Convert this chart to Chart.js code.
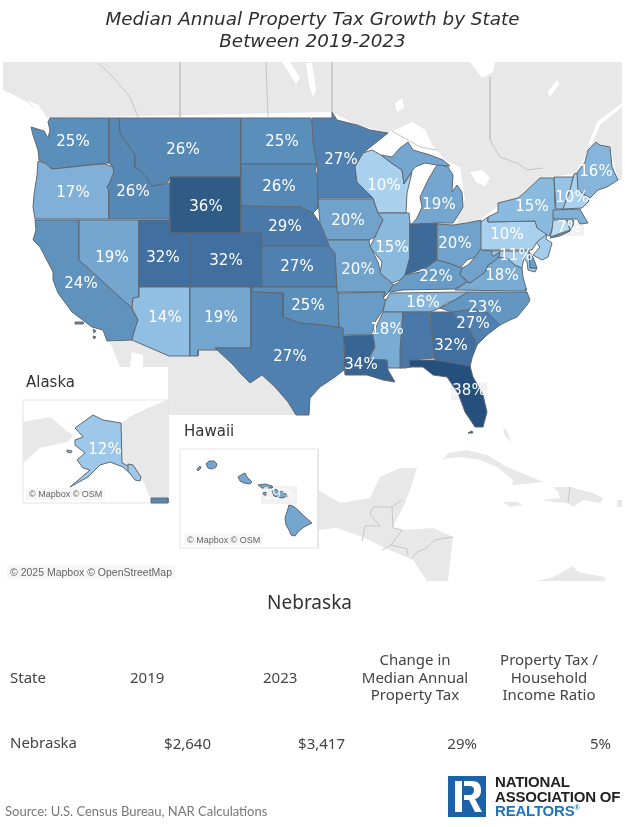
<!DOCTYPE html>
<html>
<head>
<meta charset="utf-8">
<title>Median Annual Property Tax Growth by State</title>
<script src="https://cdn.jsdelivr.net/npm/chart.js@4"></script>
<style>
  html, body { margin: 0; padding: 0; background: #fff; }
  #page { position: relative; width: 625px; height: 827px; overflow: hidden; color: #333; font-family: "Noto Sans", sans-serif; }
  #map { position: absolute; left: 0; top: 0; }
  .t { position: absolute; white-space: nowrap; }
  .title { left: 0; width: 625px; text-align: center; font: italic 18.4px "DejaVu Sans"; line-height: 22px; top: 8px; color: #2e2e2e; }
  .inset { font: 15px "DejaVu Sans"; color: #333; }
  .cell { font-size: 15px; line-height: 17.5px; text-align: center; color: #444; }
  .num { font-size: 15px; text-align: right; color: #444; }
  .copy { font: 10.5px "Liberation Sans"; color: #666; background: rgba(245,245,245,.8); padding: 1px 3px; }
  .brand { font: bold 15px/14.5px "Liberation Sans"; color: #222; letter-spacing: -.2px; }
</style>
</head>
<body>
<div id="page">
  <canvas id="map" width="625" height="827"></canvas>
  <div class="t title">Median Annual Property Tax Growth by State<br>Between 2019-2023</div>
  <div class="t inset" style="left:26px;top:373px">Alaska</div>
  <div class="t inset" style="left:184px;top:422px">Hawaii</div>
  <div class="t copy" style="left:7px;top:565px">© 2025 Mapbox © OpenStreetMap</div>
  <div class="t copy" style="left:26px;top:488px;font-size:9px">© Mapbox © OSM</div>
  <div class="t copy" style="left:184px;top:534px;font-size:9px">© Mapbox © OSM</div>

  <div class="t" style="left:0;width:619px;text-align:center;top:589px;font-size:19px;color:#333">Nebraska</div>
  <div class="t cell" style="left:10px;top:669px">State</div>
  <div class="t cell" style="left:130px;top:669px">2019</div>
  <div class="t cell" style="left:263px;top:669px">2023</div>
  <div class="t cell" style="left:340px;width:150px;top:651px">Change in<br>Median Annual<br>Property Tax</div>
  <div class="t cell" style="left:474px;width:150px;top:651px">Property Tax /<br>Household<br>Income Ratio</div>
  <div class="t cell" style="left:10px;top:734px">Nebraska</div>
  <div class="t num" style="right:414px;top:733px">$2,640</div>
  <div class="t num" style="right:280px;top:733px">$3,417</div>
  <div class="t num" style="right:148px;top:733px">29%</div>
  <div class="t num" style="right:14px;top:733px">5%</div>

  <div class="t" style="left:5px;top:803px;font:13px Lato;color:#777">Source: U.S. Census Bureau, NAR Calculations</div>
  <svg class="t" style="left:448px;top:776px" width="38" height="41" viewBox="0 0 38 41">
    <rect width="38" height="41" fill="#1c62a8"/>
    <path d="M7 5h7v31H7zM16 5h8c7 0 9 4 9 9s-2 8-6 9l7 13h-7l-6-12h-5v-5h6c2 0 4-2 4-5s-2-4-4-4h-6z" fill="#fff"/>
  </svg>
  <div class="t brand" style="left:495px;top:775px">NATIONAL<br>ASSOCIATION OF<br><span style="color:#1f74bb">REALTORS<sup style="font-size:7px;line-height:0">®</sup></span></div>
</div>

<script>
// growth between 2019 and 2023, read from the map (unlabelled states are estimated from their colour)
const stateCodes = ["WA","OR","CA","NV","ID","MT","WY","UT","CO","AZ","NM","ND","SD","NE","KS","OK","TX","MN","IA","MO","AR","LA","WI","IL","IN","MI","OH","KY","TN","MS","AL","GA","FL","SC","NC","VA","WV","MD","DE","NJ","PA","NY","CT","RI","MA","VT","NH","ME","AK","HI"];
const growthValues = [25,17,24,19,26,26,36,32,32,14,19,25,26,29,27,25,27,27,20,20,22,34,10,15,33,19,20,22,16,18,29,32,38,27,23,18,20,11,21,11,10,15,7,8,17,13,10,16,12,19];
// states which print their number on the map
const labelledStates = ["WA","OR","CA","NV","ID","MT","WY","UT","CO","AZ","NM","ND","SD","NE","KS","OK","TX","MN","IA","MO","LA","WI","IL","MI","OH","KY","TN","MS","GA","FL","SC","NC","VA","MD","PA","NY","CT","NH","ME","AK","HI"];

// where the numbers sit, in map units
const labelSpots = {WA:[73,142],OR:[73,193],CA:[81,284],NV:[112,258],ID:[133,192],MT:[183,150],WY:[206,207],UT:[163,258],CO:[226,261],AZ:[165,318],NM:[221,318],ND:[282,142],SD:[279,187],NE:[285,227],KS:[297,267],OK:[308,306],TX:[290,357],MN:[341,160],IA:[348,221],MO:[358,270],LA:[361,365],WI:[384,186],IL:[392,248],MI:[439,205],OH:[455,244],KY:[436,277],TN:[423,303],MS:[387,330],GA:[451,346],FL:[469,391],SC:[473,324],NC:[485,308],VA:[502,276],MD:[516,256],PA:[507,235],NY:[532,207],CT:[569,228],NH:[572,198],ME:[596,172],AK:[105,450],HI:[279,495]};

// state outlines in map units
const stateShapes = {
  WA:[[[50,118],[109,118],[109,163],[85,165],[70,167],[55,169],[50,168],[45,163],[39,160],[38,150],[33,135],[31,127],[44,131],[48,138],[50,130],[48,122]]],
  OR:[[[38,161],[45,163],[52,169],[72,167],[90,165],[105,164],[113,167],[114,172],[110,182],[107,187],[109,190],[109,219],[35,219],[33,207],[34,195],[37,175]]],
  CA:[[[35,220],[79,220],[79,260],[132,308],[133,312],[138,320],[134,332],[132,340],[107,341],[103,330],[92,327],[72,312],[58,293],[53,280],[53,272],[40,247],[33,240],[36,230]],
      [[75,322],[83,322],[83,324],[75,324]],
      [[93,329],[96,331],[94,333]],
      [[93,336],[96,337],[94,339]]],
  NV:[[[79,220],[139,220],[139,297],[133,298],[132,308],[79,260]]],
  ID:[[[109,118],[119,118],[120,132],[123,138],[135,155],[135,168],[140,170],[147,178],[152,186],[170,183],[170,219],[109,219],[109,190],[107,187],[110,182],[114,172],[113,167],[109,163]]],
  MT:[[[119,118],[241,118],[241,177],[170,177],[168,182],[152,186],[147,178],[140,170],[135,168],[135,155],[123,138],[120,132]]],
  WY:[[[170,177],[241,177],[241,233],[170,233]]],
  UT:[[[139,220],[170,220],[170,233],[190,233],[190,287],[139,287]]],
  CO:[[[190,233],[262,233],[262,287],[190,287]]],
  AZ:[[[139,287],[190,287],[190,356],[169,356],[132,340],[134,332],[138,320],[132,308],[133,298],[139,297]]],
  NM:[[[190,287],[251,287],[251,348],[215,348],[217,350],[198,350],[198,356],[190,356]]],
  ND:[[[241,118],[311,118],[313,130],[317,164],[241,164]]],
  SD:[[[241,164],[317,164],[315,170],[318,178],[318,208],[313,213],[300,207],[241,206]]],
  NE:[[[241,206],[300,207],[313,213],[320,223],[327,238],[329,246],[262,246],[262,233],[241,233]]],
  KS:[[[262,246],[329,246],[335,253],[337,287],[262,287]]],
  OK:[[[252,287],[337,287],[339,293],[339,327],[343,328],[323,325],[300,323],[283,317],[283,293],[252,292]]],
  TX:[[[251,287],[252,292],[283,293],[283,317],[300,323],[323,325],[343,328],[344,347],[345,358],[344,370],[335,377],[320,387],[310,398],[309,415],[296,415],[288,402],[275,387],[262,375],[250,383],[240,373],[233,365],[215,348],[251,348]]],
  MN:[[[312,118],[332,118],[332,112],[337,120],[357,125],[370,130],[388,133],[363,153],[355,167],[357,182],[373,198],[318,198],[317,165],[313,143]]],
  IA:[[[318,199],[373,199],[378,213],[383,220],[375,237],[369,240],[327,240],[320,223]]],
  MO:[[[327,240],[369,240],[370,246],[378,262],[381,273],[390,280],[393,285],[388,293],[383,298],[385,292],[338,292],[337,287],[335,253],[329,246]]],
  AR:[[[338,293],[385,292],[383,298],[386,300],[383,310],[375,322],[372,335],[343,335],[343,328],[339,327]]],
  LA:[[[343,336],[373,335],[375,347],[368,359],[387,359],[388,370],[395,382],[383,380],[367,375],[353,375],[345,375],[344,360],[345,353]]],
  WI:[[[363,153],[372,150],[381,155],[390,162],[402,170],[404,184],[412,172],[407,193],[406,213],[378,213],[373,198],[357,182],[355,167]]],
  IL:[[[378,213],[409,213],[410,223],[410,257],[405,275],[400,280],[392,283],[380,273],[382,262],[370,247],[375,237],[383,220]]],
  IN:[[[410,224],[437,223],[437,260],[425,268],[405,275],[410,257]]],
  MI:[[[412,224],[437,223],[453,223],[457,217],[463,207],[462,192],[457,185],[452,192],[453,175],[448,167],[438,164],[435,168],[428,180],[420,197],[422,207],[417,218]],
      [[381,155],[392,157],[400,148],[408,142],[413,150],[430,155],[443,160],[450,166],[437,165],[425,163],[415,167],[407,178],[404,184],[402,170],[390,162]]],
  OH:[[[437,224],[453,225],[467,223],[481,220],[482,247],[475,257],[467,260],[460,268],[448,263],[437,260]]],
  KY:[[[389,292],[403,290],[455,289],[467,282],[460,275],[462,268],[448,263],[437,260],[430,265],[420,272],[405,275],[398,283],[393,285]]],
  TN:[[[390,293],[468,292],[453,301],[447,303],[440,308],[430,312],[383,312],[385,302]]],
  MS:[[[383,312],[403,312],[401,368],[388,368],[387,360],[369,359],[375,347],[373,335],[377,325]]],
  AL:[[[403,312],[429,312],[435,358],[409,360],[411,367],[405,368],[401,368],[400,350]]],
  GA:[[[430,312],[452,312],[458,319],[470,330],[477,345],[472,358],[470,367],[435,360]]],
  FL:[[[409,360],[435,360],[470,366],[473,377],[483,395],[487,412],[483,427],[475,427],[465,412],[458,393],[447,377],[433,375],[423,367],[410,367]],
      [[468,433],[472,431],[473,433]]],
  SC:[[[452,312],[473,309],[488,313],[500,325],[487,335],[477,345],[470,330],[458,319]]],
  NC:[[[468,292],[527,292],[530,300],[527,305],[517,317],[510,320],[500,325],[488,313],[473,309],[452,312],[440,308],[450,303]]],
  VA:[[[455,290],[467,282],[470,283],[477,278],[485,272],[488,265],[493,262],[499,257],[508,259],[515,265],[522,268],[523,277],[526,288],[526,291],[520,291]]],
  WV:[[[482,250],[492,251],[493,256],[500,252],[499,257],[493,262],[488,265],[485,272],[477,278],[470,283],[460,275],[462,268],[468,265],[475,257],[482,247]]],
  MD:[[[492,251],[529,251],[530,268],[537,268],[535,272],[528,270],[527,262],[524,258],[522,268],[515,265],[508,259],[499,257],[500,252],[493,256]]],
  DE:[[[529,252],[533,257],[537,268],[530,268]]],
  NJ:[[[538,228],[547,232],[546,239],[552,243],[548,257],[542,260],[533,255],[540,247],[536,242]]],
  PA:[[[481,222],[488,217],[488,222],[535,221],[538,228],[548,233],[537,242],[532,250],[481,250]]],
  NY:[[[488,222],[488,217],[498,212],[498,203],[518,198],[525,192],[540,178],[554,178],[555,210],[552,230],[549,236],[537,228],[535,221]],
      [[550,238],[572,230],[560,236]]],
  CT:[[[553,220],[567,220],[570,230],[550,237],[552,230]]],
  RI:[[[567,220],[573,220],[573,227],[570,230]]],
  MA:[[[553,210],[580,209],[582,213],[588,223],[580,224],[577,219],[553,219]]],
  VT:[[[554,177],[573,177],[570,190],[563,209],[556,209],[555,193]]],
  NH:[[[574,174],[578,173],[578,187],[589,201],[582,208],[563,209],[570,190]]],
  ME:[[[578,190],[577,173],[585,162],[588,150],[596,142],[600,145],[610,147],[612,167],[618,180],[607,187],[598,190],[590,198]]],
  AK:[[[75,428],[93,415],[103,420],[121,423],[122,463],[130,467],[140,478],[133,476],[123,467],[110,462],[100,465],[88,477],[70,487],[90,470],[83,468],[77,460],[85,453],[75,445],[75,440],[83,437],[77,430]],
      [[128,464],[133,465],[141,477],[140,481],[135,480],[128,471]],
      [[67,450],[72,451],[71,453],[67,452]]],
  HI:[[[289,505],[293,506],[298,510],[304,516],[312,523],[304,527],[298,532],[295,536],[291,535],[289,530],[286,525],[285,518],[287,512]],
      [[272,491],[276,489],[279,492],[283,491],[288,496],[282,498],[277,497],[274,496]],
      [[263,493],[266,492],[267,495],[264,495]],
      [[258,485],[265,484],[272,486],[272,488],[262,488]],
      [[238,477],[241,475],[245,473],[247,477],[252,482],[250,484],[244,483],[240,481]],
      [[206,464],[209,461],[214,461],[217,464],[216,467],[212,469],[208,468]],
      [[197,469],[200,466],[201,468],[198,471]]]
};

// grey land and white water behind the states
const landShapes = [
  [[3,90],[10,93],[27,102],[47,118],[332,112],[357,125],[388,133],[400,128],[412,122],[425,130],[432,145],[445,160],[460,167],[465,200],[457,217],[455,224],[470,225],[490,214],[498,205],[520,198],[540,178],[574,174],[578,173],[588,150],[596,142],[610,147],[618,180],[622,180],[622,62],[3,62]],
  [[110,342],[132,340],[169,356],[198,356],[198,350],[217,350],[233,367],[250,383],[262,375],[275,387],[288,402],[296,415],[168,415],[168,367],[143,367],[143,355],[132,352],[130,367],[120,367]],
  [[318,490],[330,497],[340,503],[370,498],[380,477],[400,468],[417,468],[410,490],[405,503],[393,527],[402,530],[433,528],[453,537],[448,581],[427,581],[413,560],[383,547],[363,537],[337,528],[318,530]],
  [[442,460],[448,453],[467,450],[487,455],[507,467],[527,475],[543,482],[527,484],[512,485],[513,480],[497,467],[480,460],[460,457],[448,458]],
  [[553,487],[570,487],[593,493],[603,498],[600,503],[583,500],[573,507],[568,503],[553,502],[543,500],[560,498],[558,492]],
  [[503,502],[517,502],[523,505],[510,507]],
  [[617,500],[622,500],[622,507],[617,507]],
  [[537,581],[553,577],[573,566],[578,572],[605,577],[605,581]],
  [[503,428],[507,430],[511,442],[505,436]]
];
const waterShapes = [
  [[363,153],[388,133],[400,128],[412,122],[425,130],[432,145],[445,160],[430,155],[413,150],[408,142],[400,148],[392,157],[381,155],[372,150]],
  [[445,160],[455,165],[460,168],[464,200],[456,224],[453,222],[463,207],[462,192],[457,185],[452,192],[453,175],[448,167]],
  [[405,180],[410,172],[420,165],[434,164],[428,180],[420,197],[422,207],[417,220],[412,224],[406,213],[407,193]],
  [[456,225],[470,223],[485,216],[498,206],[519,197],[525,190],[522,200],[498,208],[490,216],[470,227]],
  [[470,172],[482,170],[490,178],[485,186],[476,182]],
  [[622,103],[622,107],[600,125],[590,148],[588,146],[597,122]],
  [[470,62],[495,62],[493,72],[482,78]],
  [[282,62],[290,62],[300,78],[296,84]],
  [[306,63],[312,63],[316,90],[313,97],[309,85]],
  [[395,104],[402,98],[404,108],[397,112]],
  [[548,92],[557,80],[559,84],[550,97]],
  [[27,100],[38,105],[47,117],[40,113]]
];
const borderLines = [
  [[98,63],[113,77],[130,97],[138,117]],
  [[180,62],[180,117]],
  [[266,62],[268,117]],
  [[332,62],[332,112]],
  [[490,77],[490,140],[500,157],[517,163],[527,170],[543,168]],
  [[392,131],[420,147],[437,150]],
  [[392,507],[373,507],[370,514],[380,526],[365,526],[362,541]],
  [[392,507],[393,528],[402,530]],
  [[392,507],[402,500]],
  [[402,530],[391,545],[382,550]],
  [[391,545],[407,549],[408,555]],
  [[412,558],[417,552],[427,548],[435,540],[453,537]],
  [[570,487],[568,503]]
];
const insetFrames = [
  [[23,400],[168,400],[168,503],[23,503]],
  [[180,449],[318,449],[318,548],[180,548]]
];
const insetLand = [
  [[23,422],[50,417],[73,436],[67,442],[40,448],[23,463]],
  [[121,423],[133,415],[150,407],[167,400],[168,498],[150,498],[142,478],[122,463]]
];
const insetPiece = [[151,498],[168,498],[168,503],[151,503]];

// colour ramp from light to dark blue used by the map
const rampValues = [7,10,14,19,25,27,32,36,38];
const rampColors = ["#b8dcf2","#a9d1ee","#91bfe3","#74a6cf","#5b8fbb","#5080b0","#416f9f","#2f5b87","#25507e"];

function toRgb(hex){
  return [1,3,5].map(i => parseInt(hex.substr(i,2),16));
}

function colorFor(value){
  let i = 0;
  while(i < rampValues.length-2 && value > rampValues[i+1]) i++;
  const t = (value-rampValues[i])/(rampValues[i+1]-rampValues[i]);
  const a = toRgb(rampColors[i]);
  const b = toRgb(rampColors[i+1]);
  const c = a.map((v,k) => Math.round(v+(b[k]-v)*t));
  return `rgb(${c[0]},${c[1]},${c[2]})`;
}

function toPoints(shape){
  return shape.concat([shape[0]]).map(p => ({x:p[0],y:p[1]}));
}

function polygon(shape,fillColor,lineColor,lineWidth){
  return {
    data: toPoints(shape),
    showLine: true,
    fill: 'shape',
    backgroundColor: fillColor,
    borderColor: lineColor,
    borderWidth: lineWidth,
    pointRadius: 0,
    tension: 0
  };
}

function line(shape,lineColor){
  return {
    data: shape.map(p => ({x:p[0],y:p[1]})),
    showLine: true,
    fill: false,
    borderColor: lineColor,
    borderWidth: 1,
    pointRadius: 0,
    tension: 0
  };
}

// pale boxes behind a few numbers, tableau draws them when a label is crowded
const boxedStates = {FL:[36,18],HI:[36,18],ME:[36,16],NH:[36,16],CT:[30,16]};

// layers are listed from back to front
let layers = [];
landShapes.forEach(s => layers.push(polygon(s,"#e8e8e8","#e8e8e8",0)));
waterShapes.forEach(s => layers.push(polygon(s,"#ffffff","#ffffff",0)));
borderLines.forEach(s => layers.push(line(s,"#c6c6c6")));
insetFrames.forEach(s => layers.push(polygon(s,"#ffffff","#e4e4e4",1)));
insetLand.forEach(s => layers.push(polygon(s,"#e8e8e8","#e8e8e8",0)));
layers.push(polygon(insetPiece,colorFor(26),"#666f78",1));
Object.keys(boxedStates).forEach(code => {
  const [cx,cy] = labelSpots[code];
  const [w,h] = boxedStates[code];
  layers.push(polygon([[cx-w/2,cy-h/2],[cx+w/2,cy-h/2],[cx+w/2,cy+h/2],[cx-w/2,cy+h/2]],"#f1f1f1","#f1f1f1",0));
});
stateCodes.forEach((code,i) => {
  stateShapes[code].forEach(s => layers.push(polygon(s,colorFor(growthValues[i]),"#5f6872",1)));
});

// state numbers on top of everything
const stateLabels = {
  id: 'stateLabels',
  afterDatasetsDraw(chart){
    const ctx = chart.ctx;
    const xs = chart.scales.x;
    const ys = chart.scales.y;
    ctx.save();
    ctx.font = '15px "DejaVu Sans"';
    ctx.textAlign = 'center';
    ctx.textBaseline = 'middle';
    labelledStates.forEach(code => {
      const v = growthValues[stateCodes.indexOf(code)];
      const px = xs.getPixelForValue(labelSpots[code][0]);
      const py = ys.getPixelForValue(labelSpots[code][1]);
      ctx.fillStyle = code == "HI" ? 'rgba(255,255,255,0.8)' : '#ffffff';
      ctx.fillText(v+'%',px,py);
    });
    ctx.restore();
  }
};

new Chart(document.getElementById('map'),{
  type: 'scatter',
  data: { datasets: layers.reverse() },
  options: {
    responsive: false,
    animation: false,
    events: [],
    layout: { padding: 0 },
    plugins: {
      legend: { display: false },
      tooltip: { enabled: false }
    },
    scales: {
      x: { type: 'linear', min: 0, max: 625, display: false },
      y: { type: 'linear', min: 0, max: 827, reverse: true, display: false }
    }
  },
  plugins: [stateLabels]
});
</script>
</body>
</html>
